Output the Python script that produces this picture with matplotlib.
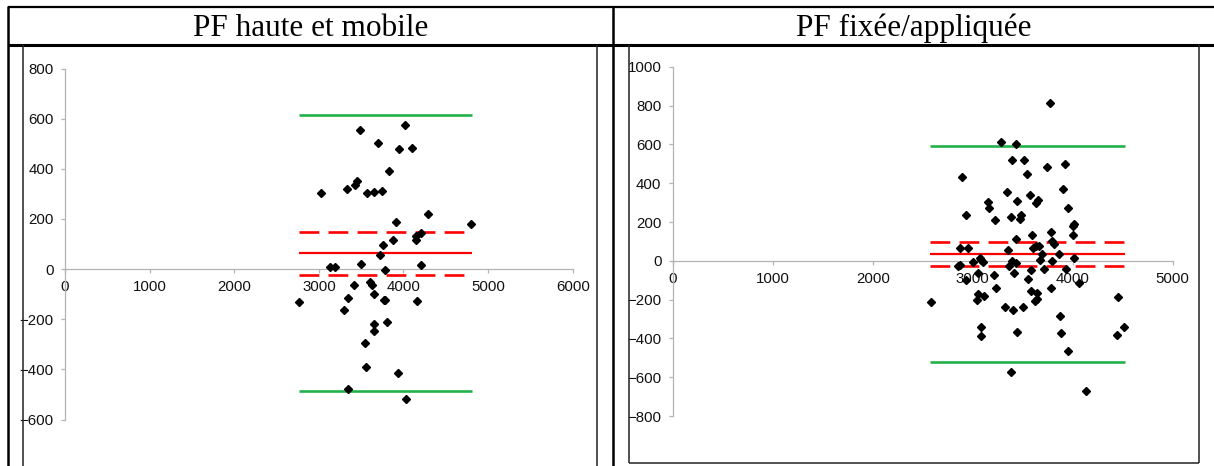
import matplotlib
matplotlib.use("Agg")
import matplotlib.pyplot as plt
from matplotlib.lines import Line2D

# --- data ---
titles = ["PF haute et mobile", "PF fixée/appliquée"]

# left panel: PF haute et mobile
left_x = [2762, 3020, 3492, 4018, 3697, 3942, 4098, 3831, 3332, 3430, 3452, 3572,
          3653, 3742, 4285, 3906, 4802, 4209, 4143, 4151, 3880, 3755, 3724, 3131,
          3189, 3501, 4205, 3777, 3412, 3599, 3630, 3648, 3341, 3768, 3782, 4165,
          3301, 3808, 3657, 3648, 3541, 3563, 3933, 3350, 4031]
left_y = [-131, 305, 554, 575, 502, 478, 482, 392, 320, 336, 351, 303,
          309, 313, 220, 186, 179, 142, 133, 117, 114, 97, 58, 7,
          7, 21, 17, -3, -62, -52, -62, -100, -117, -124, -122, -127,
          -162, -210, -220, -248, -296, -392, -413, -478, -519]
left_span = [2760, 4810]
left_mean = 63
left_ci = [-22, 146]
left_loa = [-488, 614]

# right panel: PF fixée/appliquée
right_x = [3771, 3280, 3433, 3391, 3510, 3921, 3740, 3541, 2888, 3906, 3341, 3571,
           3445, 3656, 3629, 3149, 3160, 3948, 2930, 3383, 3479, 3468, 3222, 4013,
           3998, 3787, 3591, 4002, 3433, 3790, 3813, 2876, 2957, 3602, 3637, 3660,
           3859, 3694, 3353, 3076, 3087, 3099, 2999, 3395, 3429, 3675, 3790, 4013,
           2853, 2872, 3360, 3583, 3710, 3936, 3410, 3057, 3214, 2930, 3548, 4063,
           3230, 3779, 3579, 3641, 3049, 3111, 4451, 3038, 3645, 3622, 2581, 3326,
           3498, 3399, 3871, 3080, 4512, 3441, 3886, 4443, 3084, 3948, 3383, 4128]
right_y = [815, 611, 601, 522, 522, 500, 486, 450, 433, 368, 354, 341,
           309, 313, 296, 303, 270, 274, 236, 226, 238, 217, 212, 192,
           178, 147, 133, 133, 111, 101, 87, 67, 67, 67, 75, 77,
           36, 36, 58, 15, 3, -4, -4, -2, -9, 2, 0, 14,
           -29, -21, -29, -46, -43, -43, -62, -62, -71, -98, -93, -117,
           -141, -141, -158, -166, -171, -182, -185, -204, -196, -208, -213, -239,
           -239, -252, -286, -339, -339, -367, -372, -380, -389, -464, -571, -672]
right_span = [2575, 4525]
right_mean = 34
right_ci = [-28, 96]
right_loa = [-522, 591]

W, H = 1214, 466
fig = plt.figure(figsize=(W / 100, H / 100), dpi=100)


def px(x, y):
    return x / W, 1 - y / H


def rule(x0, y0, x1, y1, lw, color="black"):
    a, b = px(x0, y0)
    c, d = px(x1, y1)
    fig.add_artist(Line2D([a, c], [b, d], transform=fig.transFigure,
                          color=color, lw=lw, solid_capstyle="butt"))


# table grid
rule(8, 7, W, 7, 1.6)
rule(8, 44.5, W, 44.5, 2.2)
rule(8, 6, 8, H, 1.8)
rule(613, 6, 613, H, 1.8)
# chart frames
rule(23, 45, 23, H, 1.1, "#222222")
rule(597, 45, 597, H, 1.1, "#222222")
rule(629, 45, 629, 463, 1.1, "#222222")
rule(1199, 45, 1199, 463, 1.1, "#222222")
rule(629, 463, 1199, 463, 1.1, "#222222")

for cx, t in zip([311, 914], titles):
    fx, fy = px(cx, 36)
    fig.text(fx, fy, t, ha="center", va="baseline", fontsize=22.5,
             family="Liberation Serif")


def panel(rect_px, xs, ys, span, mean, ci, loa, xmax, ylo, yhi):
    x0, y_top, x1, y_bot = rect_px
    ax = fig.add_axes([x0 / W, 1 - y_bot / H, (x1 - x0) / W, (y_bot - y_top) / H])
    ax.set_xlim(0, xmax)
    ax.set_ylim(ylo, yhi)
    ax.set_xticks(range(0, xmax + 1, 1000))
    ax.set_yticks(range(ylo, yhi + 1, 200))
    for s in ["top", "right"]:
        ax.spines[s].set_visible(False)
    ax.spines["bottom"].set_position(("data", 0))
    for s in ["bottom", "left"]:
        ax.spines[s].set_color("#b3b3b3")
        ax.spines[s].set_linewidth(0.9)
    ax.tick_params(direction="out", length=2.6, width=0.9, color="#b3b3b3",
                   labelsize=10.8, labelcolor="#111111", pad=5.5)
    for lab in ax.get_xticklabels() + ax.get_yticklabels():
        lab.set_family("Liberation Sans")
    ax.patch.set_visible(False)

    green = "#22b04b"
    red = "#ff0000"
    for v in loa:
        ax.plot(span, [v, v], color=green, lw=1.9, solid_capstyle="butt")
    ax.plot(span, [mean, mean], color=red, lw=1.6, solid_capstyle="butt")
    for v in ci:
        ax.plot(span, [v, v], color=red, lw=1.9, linestyle=(0, (7.5, 3.5)),
                dash_capstyle="butt")
    ax.plot(xs, ys, linestyle="none", marker="D", ms=4.4, color="black",
            zorder=5, clip_on=False)
    return ax


panel((65, 68.5, 572.7, 419.5), left_x, left_y, left_span, left_mean,
      left_ci, left_loa, 6000, -600, 800)
panel((672.7, 66.8, 1172.7, 416), right_x, right_y, right_span, right_mean,
      right_ci, right_loa, 5000, -800, 1000)

fig.savefig("out.png", dpi=100)
